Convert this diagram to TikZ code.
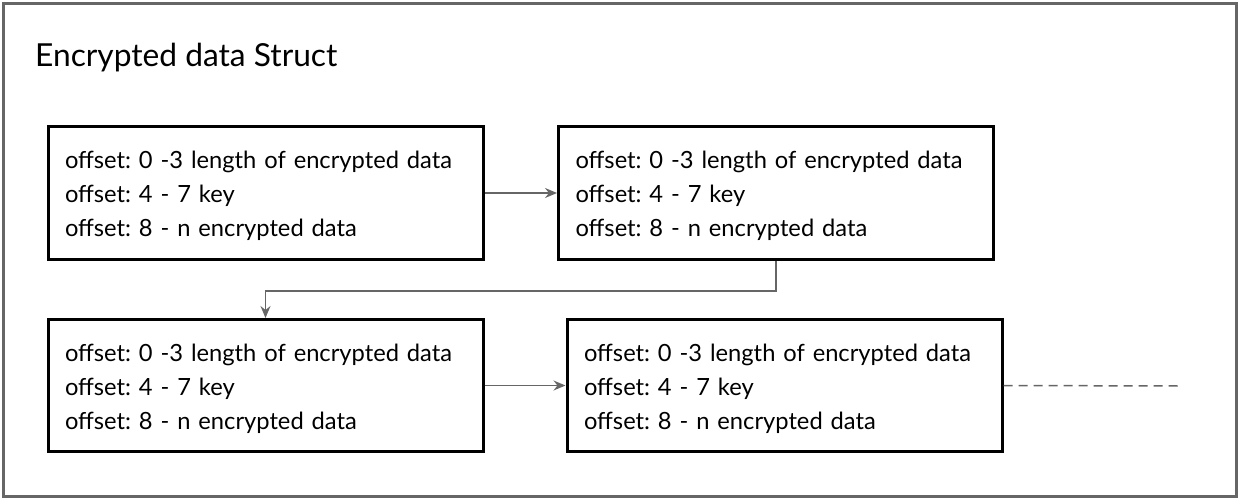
\documentclass[tikz,border=0pt]{standalone}
\usepackage{fontspec}
\setmainfont{Lato}
\usetikzlibrary{arrows.meta}
\frenchspacing
\definecolor{frame}{HTML}{666666}
\definecolor{conn}{HTML}{666666}
\tikzset{
  rec/.style={draw=black, line width=3pt, minimum height=132pt, text width=401pt, inner sep=17pt, align=left, font=\fontsize{23.7}{34}\selectfont},
  conn/.style={draw=conn, line width=1.5pt, -{Stealth[length=12pt,width=10pt,inset=4pt]}},
  dashline/.style={draw=conn, line width=1.5pt, dash pattern=on 9pt off 6pt}
}
\newcommand{\boxtext}{\rule{0pt}{24pt}offset: 0 -3 length of encrypted data\\offset: 4 - 7 key\\offset: 8 - n encrypted data}
\begin{document}
\begin{tikzpicture}[x=1pt,y=-1pt]
\useasboundingbox (0,0) rectangle (1240,500);
\draw[frame, line width=3pt] (3.5,3.5) rectangle (1236.5,496.5);
\node[anchor=base west, font=\fontsize{31.7}{34}\selectfont, inner sep=0] (title) at (35,67) {Encrypted data Struct};
\node[rec] (b1) at (265.5,193) {\boxtext};
\node[rec] (b2) at (776,193) {\boxtext};
\node[rec] (b3) at (265.5,385.5) {\boxtext};
\node[rec] (b4) at (784.5,385.5) {\boxtext};
\coordinate (end) at (1178,386);
\draw[conn] (b1.east) -- (b2.west);
\draw[conn] (b2.south) -- (b2.south |- 0,291) -| (b3.north);
\draw[conn] (b3.east) -- (b4.west);
\draw[dashline] (b4.east) -- (end);
\end{tikzpicture}
\end{document}
